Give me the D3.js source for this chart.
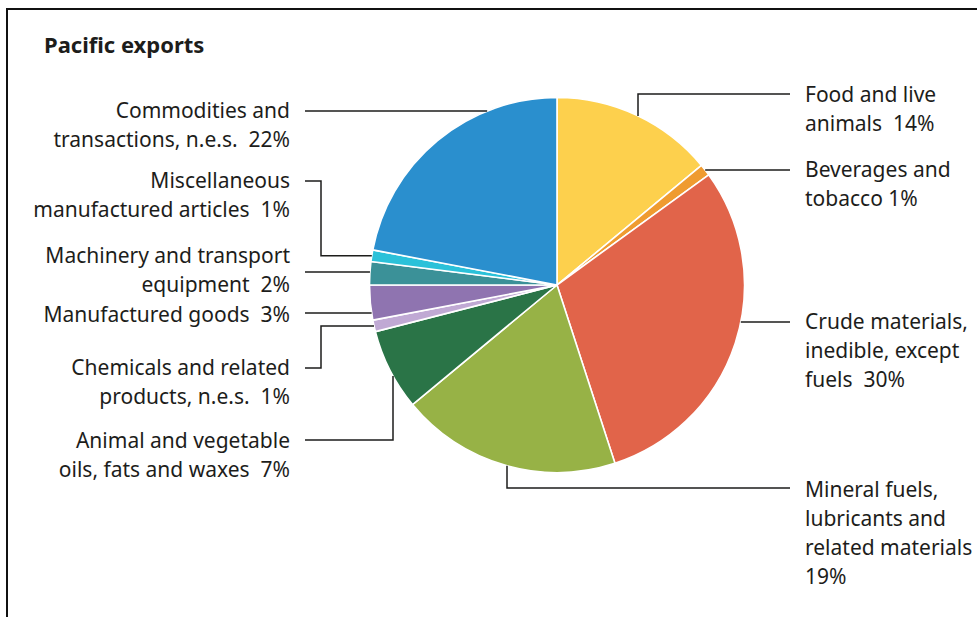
<!DOCTYPE html>
<html>
<head>
<meta charset="utf-8">
<script src="https://cdn.jsdelivr.net/npm/d3@7"></script>
<style>
  html, body { margin: 0; padding: 0; background: #fff; }
  svg text { font-family: "Noto Sans", sans-serif; fill: #1d1d1b; white-space: pre; }
</style>
</head>
<body>
<svg id="chart" width="977" height="617"></svg>
<script>
// Pacific exports by commodity group, share of total (%)
const categories = [
  "Food and live animals",
  "Beverages and tobacco",
  "Crude materials, inedible, except fuels",
  "Mineral fuels, lubricants and related materials",
  "Animal and vegetable oils, fats and waxes",
  "Chemicals and related products, n.e.s.",
  "Manufactured goods",
  "Machinery and transport equipment",
  "Miscellaneous manufactured articles",
  "Commodities and transactions, n.e.s."
];
const shares = [14, 1, 30, 19, 7, 1, 3, 2, 1, 22];
const colors = ["#fdd04d", "#ef9b30", "#e1644a", "#97b246", "#2a7447",
                "#c0a9d4", "#8f74b0", "#3b9198", "#2bc1d9", "#2a8fce"];

// Label text, line by line
const labelLines = [
  ["Food and live", "animals  14%"],
  ["Beverages and", "tobacco 1%"],
  ["Crude materials,", "inedible, except", "fuels  30%"],
  ["Mineral fuels,", "lubricants and", "related materials", "19%"],
  ["Animal and vegetable", "oils, fats and waxes  7%"],
  ["Chemicals and related", "products, n.e.s.  1%"],
  ["Manufactured goods  3%"],
  ["Machinery and transport", "equipment  2%"],
  ["Miscellaneous", "manufactured articles  1%"],
  ["Commodities and", "transactions, n.e.s.  22%"]
];
// which side of the pie each label sits on
const labelSide = ["right", "right", "right", "right", "left",
                   "left", "left", "left", "left", "left"];

const svg = d3.select("#chart");
const W = 977, H = 617;
const cx = 557, cy = 285, R = 187.5;
const lineH = 29;

// frame
svg.append("path")
  .attr("d", `M${W},9 H7 V${H}`)
  .attr("fill", "none").attr("stroke", "#111").attr("stroke-width", 2);

svg.append("text")
  .attr("x", 44).attr("y", 53)
  .style("font-weight", "bold").style("font-size", "22px")
  .text("Pacific exports");

const pie = d3.pie().sort(null).value(d => d)(shares);
const arc = d3.arc().innerRadius(0).outerRadius(R);

const g = svg.append("g").attr("transform", `translate(${cx},${cy})`);
g.selectAll("path.slice")
  .data(pie)
  .join("path")
  .attr("class", "slice")
  .attr("d", arc)
  .attr("fill", (d, i) => colors[i])
  .attr("stroke", "#fff")
  .attr("stroke-width", 1.6)
  .attr("stroke-linejoin", "round");

// point on the rim at a given angle (radians, clockwise from 12 o'clock)
const rim = a => [cx + R * Math.sin(a), cy - R * Math.cos(a)];
const midA = d => (d.startAngle + d.endAngle) / 2;
const rimXatY = (y, side) => cx + side * Math.sqrt(R * R - (y - cy) ** 2);
const rimYatX = (x, side) => cy + side * Math.sqrt(R * R - (x - cx) ** 2);

const rightX = 790, leftX = 305, elbowL = 321;

// first-line y of each label block
const labelY = [95, 170, 322, 490, 441, 368, 315, 256, 181, 111];

// leader line for each slice
function leader(i) {
  const d = pie[i];
  switch (i) {
    case 0: { const x = 638; return [[x, rimYatX(x, -1)], [x, 94], [rightX, 94]]; }
    case 1: { const p = rim(midA(d)); return [p, [rightX, p[1]]]; }
    case 2: { const y = 322; return [[rimXatY(y, 1), y], [rightX, y]]; }
    case 3: { const x = 507; return [[x, rimYatX(x, 1)], [x, 488], [rightX, 488]]; }
    case 4: { const x = 393; return [[x, rimYatX(x, 1)], [x, 440], [leftX, 440]]; }
    case 5: { const p = rim(midA(d)); return [p, [elbowL, p[1]], [elbowL, 368], [leftX, 368]]; }
    case 6: { const y = 313; return [[rimXatY(y, -1), y], [leftX, y]]; }
    case 7: { const y = 272; return [[rimXatY(y, -1), y], [leftX, y]]; }
    case 8: { const p = rim(midA(d)); return [p, [elbowL, p[1]], [elbowL, 181], [leftX, 181]]; }
    case 9: { const y = 111; return [[rimXatY(y, -1), y], [leftX, y]]; }
  }
}

const line = d3.line();
svg.append("g").selectAll("path")
  .data(pie.map((d, i) => leader(i)))
  .join("path")
  .attr("d", line)
  .attr("fill", "none")
  .attr("stroke", "#1d1d1b")
  .attr("stroke-width", 1.5);

// labels: right side starts after the leader, left side ends before it
const labels = svg.append("g").style("font-size", "21px");
pie.forEach((d, i) => {
  const right = labelSide[i] === "right";
  const t = labels.append("text")
    .attr("text-anchor", right ? "start" : "end");
  labelLines[i].forEach((s, k) => {
    t.append("tspan")
      .attr("x", right ? 805 : 290)
      .attr("y", labelY[i] + k * lineH)
      .attr("dy", "0.35em")
      .text(s);
  });
});
</script>
</body>
</html>
